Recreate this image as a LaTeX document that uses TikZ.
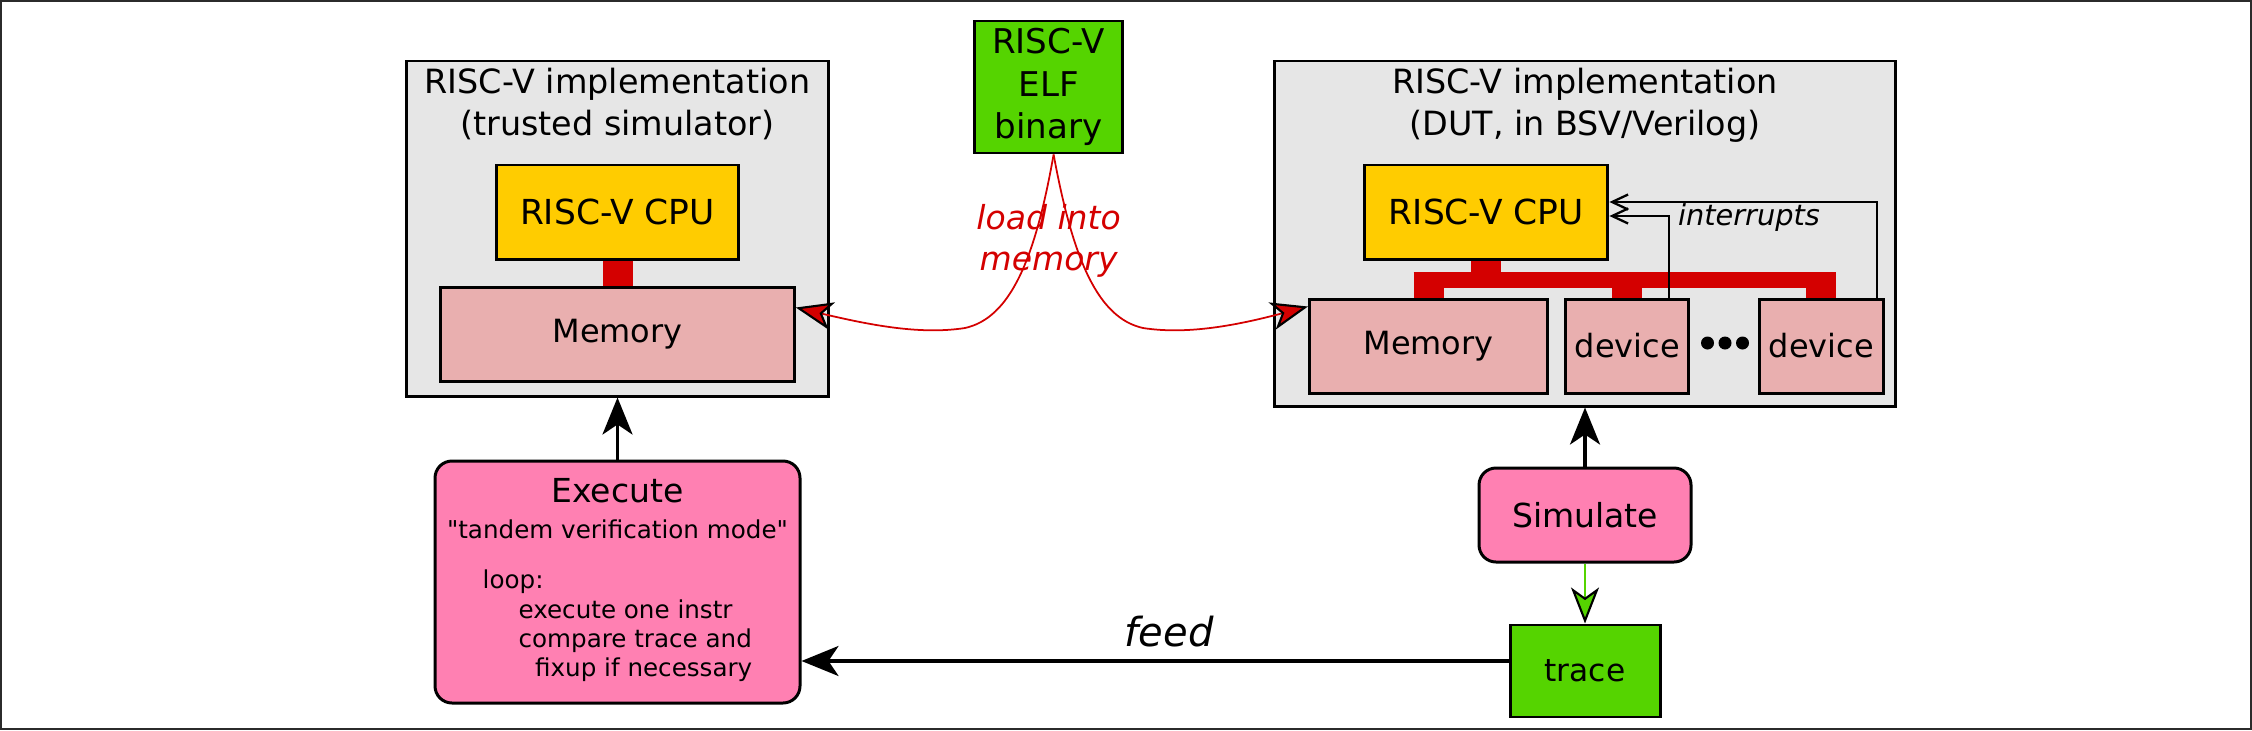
\documentclass[tikz,border=0pt]{standalone}
\usepackage{fontspec}
\setmainfont{DejaVu Sans}[Ligatures=TeXOff]
\usetikzlibrary{positioning,arrows.meta,calc}

\definecolor{implgray}{HTML}{E6E6E6}
\definecolor{cpuyellow}{HTML}{FFCC00}
\definecolor{mempink}{HTML}{E9AFAF}
\definecolor{filegreen}{HTML}{55D400}
\definecolor{procpink}{HTML}{FF80B2}
\definecolor{busred}{HTML}{D40000}
\definecolor{framegray}{HTML}{2B2B2B}

\begin{document}
\begin{tikzpicture}[
  x=1cm, y=-1cm,
  font=\fontsize{9.4}{11.9}\selectfont,
  box/.style={draw, line width=0.85pt, align=center, inner sep=0pt},
  impl/.style={box, fill=implgray},
  title/.style={align=center, inner sep=0pt, anchor=north, font=\fontsize{9.5}{11.95}\selectfont},
  cpu/.style={box, fill=cpuyellow, minimum height=0.94cm, font=\fontsize{9.8}{11.9}\selectfont},
  mem/.style={box, fill=mempink, minimum height=0.94cm, font=\fontsize{9.1}{11.9}\selectfont},
  file/.style={box, fill=filegreen},
  proc/.style={box, fill=procpink, rounded corners=0.17cm},
  bus/.style={busred},
  flow/.style={-{Stealth[length=3.7mm, width=3mm, inset=1mm]}, line width=0.95pt},
  irq/.style={-{Straight Barb[length=1.6mm, width=1.5mm]}, line width=0.65pt},
  load/.style={-{Stealth[length=3.7mm, width=2.8mm, inset=1mm, color=black, fill=busred, line width=0.6pt]},
    busred, line width=0.5pt},
  simout/.style={-{Stealth[length=3.6mm, width=2.8mm, inset=1mm, color=black, fill=filegreen, line width=0.6pt]},
    filegreen, line width=0.8pt},
  lbl/.style={align=center, inner sep=0pt, font=\fontsize{9.4}{11.7}\selectfont\itshape},
]
\useasboundingbox (0,0) rectangle (22.52,7.30);
\draw[framegray, line width=0.5pt] (0.01,0.01) rectangle (22.51,7.29);

% ---- trusted simulator (left) ----
\node[impl, minimum width=4.22cm, minimum height=3.35cm] (simL) at (6.175,2.285) {};
\node[title] (simLtitle) at (6.175,0.676) {RISC-V implementation\\(trusted simulator)};
\node[cpu, minimum width=2.424cm] (cpuL) at (6.175,2.12) {RISC-V CPU};
\node[mem, minimum width=3.536cm] (memL) at (6.175,3.34) {Memory};
\draw[bus, line width=0.30cm] (cpuL) -- (memL);

% ---- ELF binary (top middle) ----
\node[file, minimum width=1.474cm, minimum height=1.32cm, font=\fontsize{9.7}{12.1}\selectfont]
  (elf) at (10.486,0.87) {RISC-V\\ELF\\binary};

% ---- DUT (right) ----
\node[impl, minimum width=6.206cm, minimum height=3.45cm] (simR) at (15.85,2.335) {};
\node[title] (simRtitle) at (15.85,0.676) {RISC-V implementation\\(DUT, in BSV/Verilog)};
\node[cpu, minimum width=2.43cm] (cpuR) at (14.864,2.12) {RISC-V CPU};
\node[mem, minimum width=2.381cm] (memR) at (14.285,3.46) {Memory};
\node[mem, minimum width=1.232cm, right=0.152cm of memR] (dev1) {device};
\node[mem, minimum width=1.24cm, right=0.674cm of dev1] (dev2) {device};
\coordinate (dots) at (17.25,3.43);
\foreach \dx in {-0.175,0,0.175} \fill ($(dots)+(\dx,0)$) circle (0.065);

% ---- bus ----
\coordinate (busy) at (0,2.80);
\draw[bus, line width=0.16cm] ($(memR.north |- busy)+(-0.15,0)$) -- ($(dev2.north |- busy)+(0.15,0)$);
\foreach \n in {memR,dev1,dev2} \draw[bus, line width=0.30cm] (\n.north) -- (\n.north |- busy);
\draw[bus, line width=0.30cm] (cpuR.south) -- (cpuR.south |- busy);

% ---- interrupts ----
\draw[irq] ($(dev1.north east)+(-0.213,0)$) |- ($(cpuR.east)+(0,0.04)$);
\draw[irq] ($(dev2.north east)+(-0.082,0)$) |- ($(cpuR.east)+(0,-0.10)$);
\node[lbl, font=\fontsize{8.2}{9.8}\selectfont\itshape, anchor=base] (irqlbl) at (17.49,2.25) {interrupts};

% ---- load into memory ----
\coordinate (elfout) at ($(elf.south)+(0.05,0)$);
\draw[load] (elfout) .. controls (10.35,2.60) and (10.10,3.18) .. (9.65,3.28)
  .. controls (9.20,3.35) and (8.70,3.25) .. ($(memL.north east)+(0,0.22)$);
\draw[load] (elfout) .. controls (10.73,2.60) and (10.98,3.18) .. (11.43,3.28)
  .. controls (11.88,3.35) and (12.38,3.25) .. ($(memR.north west)+(0,0.09)$);
\node[lbl, text=busred] (loadlbl) at (10.486,2.41) {load into\\memory};

% ---- execute (bottom left) ----
\node[proc, minimum width=3.65cm, minimum height=2.42cm, font=\fontsize{7.0}{8.3}\selectfont]
  (exec) at (6.175,5.82)
  {{\fontsize{9.4}{10}\selectfont Execute}\\[1.7pt]
   "tandem verification mode"\\[6.2pt]
   \begin{tabular}[t]{@{}l@{}}
   loop:\\
   \hspace*{10.2pt}execute one instr\\
   \hspace*{10.2pt}compare trace and\\
   \hspace*{14.9pt}fixup if necessary
   \end{tabular}};
\draw[flow] (exec) -- (simL);

% ---- simulate + trace (bottom right) ----
\node[proc, minimum width=2.12cm, minimum height=0.94cm] (sim) at (15.85,5.15) {Simulate};
\node[file, minimum width=1.50cm, minimum height=0.92cm, font=\fontsize{8.9}{10}\selectfont,
  below=0.60cm of sim] (trace) {trace};
\draw[flow] (sim) -- (simR);
\draw[simout] (sim) -- (trace);

% ---- feed ----
\coordinate (feedin) at ($(trace.west)+(0,-0.10)$);
\draw[flow] (feedin) -- (feedin -| exec.east)
  node[pos=0.48, anchor=base, yshift=0.15cm, inner sep=0pt, font=\fontsize{11.4}{13}\selectfont\itshape] (feedlbl) {feed};
\end{tikzpicture}
\end{document}
